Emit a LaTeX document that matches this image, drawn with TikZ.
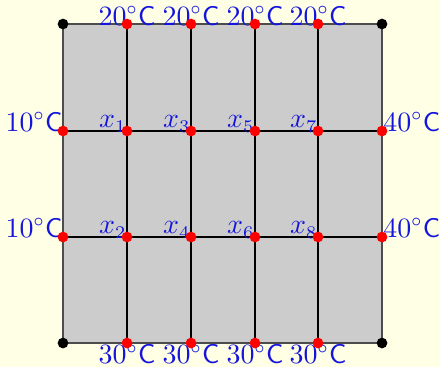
\documentclass[tikz,border=0pt]{standalone}
\usepackage{xcolor}
\definecolor{bgyellow}{RGB}{255,255,229}
\definecolor{cellgray}{RGB}{204,204,204}
\definecolor{lblblue}{RGB}{20,20,220}
\newcommand{\degC}[1]{$#1^\circ$\textsf{C}}
\begin{document}
\begin{tikzpicture}[x=0.392pt,y=0.392pt,
  gridline/.style={draw=black, line width=0.45pt},
  border/.style={draw=black!70, line width=0.5pt, fill=cellgray},
  reddot/.style={circle, fill=red, inner sep=0pt, minimum size=4.2pt},
  blackdot/.style={circle, fill=black, inner sep=0pt, minimum size=4.2pt},
  lbl/.style={text=lblblue, inner sep=0pt, font=\fontsize{10.6pt}{12pt}\selectfont}]
\fill[bgyellow] (0,0) rectangle (440,367);
\useasboundingbox (0,0) rectangle (440,367);
% coordinates
\foreach \i/\x in {0/63,1/127,2/191,3/255,4/318,5/382}{
  \foreach \j/\y in {0/24,1/130,2/236,3/343}{
    \coordinate (p\i\j) at (\x,\y);
  }
}
\draw[border] (p00) rectangle (p53);
\foreach \i in {1,2,3,4}{ \draw[gridline] (p\i0) -- (p\i3); }
\foreach \j in {1,2}{ \draw[gridline] (p0\j) -- (p5\j); }
% top labels
\foreach \i in {1,2,3,4}{ \node[lbl, anchor=base, yshift=-0.4pt] (t\i) at (p\i3) {\degC{20}}; }
% bottom labels
\foreach \i in {1,2,3,4}{ \node[lbl, anchor=base, yshift=-8.2pt] (b\i) at (p\i0) {\degC{30}}; }
% left / right labels
\foreach \j in {1,2}{
  \node[lbl, anchor=base east] (l\j) at (p0\j) {\degC{10}};
  \node[lbl, anchor=base west, xshift=0.3pt] (r\j) at (p5\j) {\degC{40}};
}
% unknowns
\node[lbl, anchor=base east, yshift=1.2pt] (x1) at (p12) {$x_1$};
\node[lbl, anchor=base east, yshift=1.2pt] (x2) at (p11) {$x_2$};
\node[lbl, anchor=base east, yshift=1.2pt] (x3) at (p22) {$x_3$};
\node[lbl, anchor=base east, yshift=1.2pt] (x4) at (p21) {$x_4$};
\node[lbl, anchor=base east, yshift=1.2pt] (x5) at (p32) {$x_5$};
\node[lbl, anchor=base east, yshift=1.2pt] (x6) at (p31) {$x_6$};
\node[lbl, anchor=base east, yshift=1.2pt] (x7) at (p42) {$x_7$};
\node[lbl, anchor=base east, yshift=1.2pt] (x8) at (p41) {$x_8$};
% dots
\foreach \i in {0,1,2,3,4,5}{
  \foreach \j in {0,1,2,3}{
    \pgfmathtruncatemacro{\corner}{((\i==0)||(\i==5))&&((\j==0)||(\j==3))}
    \ifnum\corner=1
      \node[blackdot] (d\i\j) at (p\i\j) {};
    \else
      \node[reddot] (d\i\j) at (p\i\j) {};
    \fi
  }
}
\end{tikzpicture}
\end{document}
